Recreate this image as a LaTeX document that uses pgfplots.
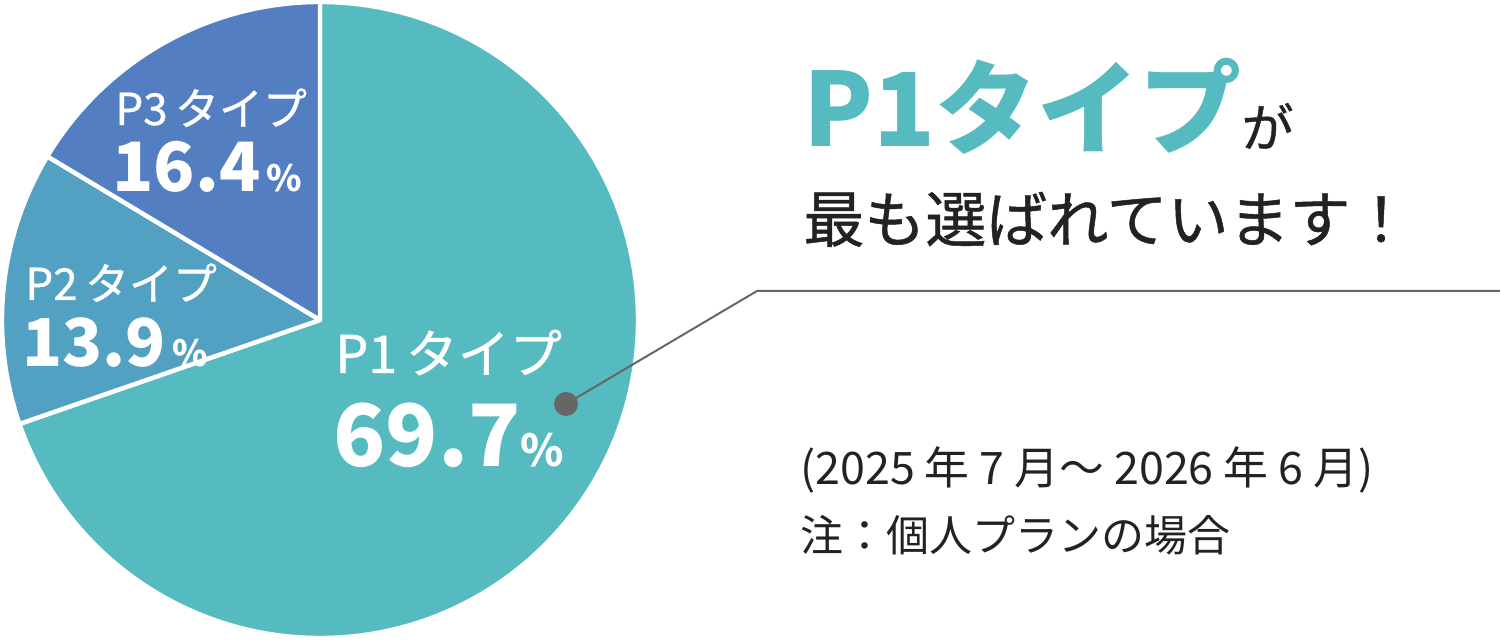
\documentclass[border=0pt]{standalone}
\usepackage{pgfplots}
\pgfplotsset{compat=1.18}
\usepackage{fontspec}
\setmainfont{Noto Sans CJK JP}
\newfontfamily\cjkmed[FakeBold=0.8]{Noto Sans CJK JP}

\definecolor{pOne}{HTML}{56BBC1}
\definecolor{pTwo}{HTML}{52A0C2}
\definecolor{pThree}{HTML}{537FC2}
\definecolor{txt}{HTML}{222222}
\definecolor{lead}{HTML}{666666}

% shares in percent
\def\shareA{69.7}
\def\shareB{13.9}
\def\shareC{16.4}

\begin{document}
\begin{tikzpicture}
\pgfmathsetmacro\endA{90-3.6*\shareA}
\pgfmathsetmacro\endB{\endA-3.6*\shareB}
\pgfmathsetmacro\endC{\endB-3.6*\shareC}
\begin{axis}[
    width=750pt, height=320.5pt, scale only axis,
    xmin=0, xmax=1500, ymin=0, ymax=641,
    hide axis, clip=false]
  \coordinate (bl) at (axis cs:0,0);
  \coordinate (tr) at (axis cs:1500,641);
  % pie wedges, clockwise from 12 o'clock
  \filldraw[fill=pOne, draw=white, line width=2.2pt, line join=round]
    (axis cs:320,321) -- ++(90:159pt) arc[start angle=90, end angle=\endA, radius=159pt] -- cycle;
  \filldraw[fill=pTwo, draw=white, line width=2.2pt, line join=round]
    (axis cs:320,321) -- ++(\endA:159pt) arc[start angle=\endA, end angle=\endB, radius=159pt] -- cycle;
  \filldraw[fill=pThree, draw=white, line width=2.2pt, line join=round]
    (axis cs:320,321) -- ++(\endB:159pt) arc[start angle=\endB, end angle=\endC, radius=159pt] -- cycle;

  % slice labels
  \node[anchor=base west, inner sep=0, text=white] at (axis cs:335,268)
    {\cjkmed\fontsize{26}{26}\selectfont P1\,タイプ};
  \node[anchor=base west, inner sep=0, text=white] at (axis cs:333,174)
    {\fontsize{43}{43}\selectfont\bfseries 69.7\fontsize{22}{22}\selectfont\%};
  \node[anchor=base west, inner sep=0, text=white] at (axis cs:25,341)
    {\cjkmed\fontsize{22}{22}\selectfont P2\,タイプ};
  \node[anchor=base west, inner sep=0, text=white] at (axis cs:22,274)
    {\fontsize{33}{33}\selectfont\bfseries 13.9\fontsize{18}{18}\selectfont\,\%};
  \node[anchor=base west, inner sep=0, text=white] at (axis cs:115,516)
    {\cjkmed\fontsize{22}{22}\selectfont P3\,タイプ};
  \node[anchor=base west, inner sep=0, text=white] at (axis cs:112,449)
    {\fontsize{34}{34}\selectfont\bfseries 16.4\fontsize{18}{18}\selectfont\,\%};

  % leader line and dot
  \draw[lead, line width=1pt] (axis cs:566,237) -- (axis cs:757,350) -- (axis cs:1500,350);
  \fill[lead] (axis cs:566,237) circle[radius=6pt];

  % headline
  \node[anchor=base west, inner sep=0, text=pOne] at (axis cs:803,494)
    {\fontsize{51}{51}\selectfont\bfseries P1タイプ\textcolor{txt}{\cjkmed\mdseries\fontsize{26}{26}\selectfont が}};
  \node[anchor=base west, inner sep=0, text=txt] at (axis cs:803,399)
    {\cjkmed\fontsize{30.5}{30.5}\selectfont 最も選ばれています！};

  % notes
  \node[anchor=base west, inner sep=0, text=txt] at (axis cs:800,156)
    {\fontsize{22.4}{22.4}\selectfont (2025 年 7 月～ 2026 年 6 月)};
  \node[anchor=base west, inner sep=0, text=txt] at (axis cs:800,89)
    {\fontsize{21.5}{21.5}\selectfont 注：個人プランの場合};
\end{axis}
\pgfresetboundingbox
\path (bl) rectangle (tr);
\end{tikzpicture}
\end{document}
